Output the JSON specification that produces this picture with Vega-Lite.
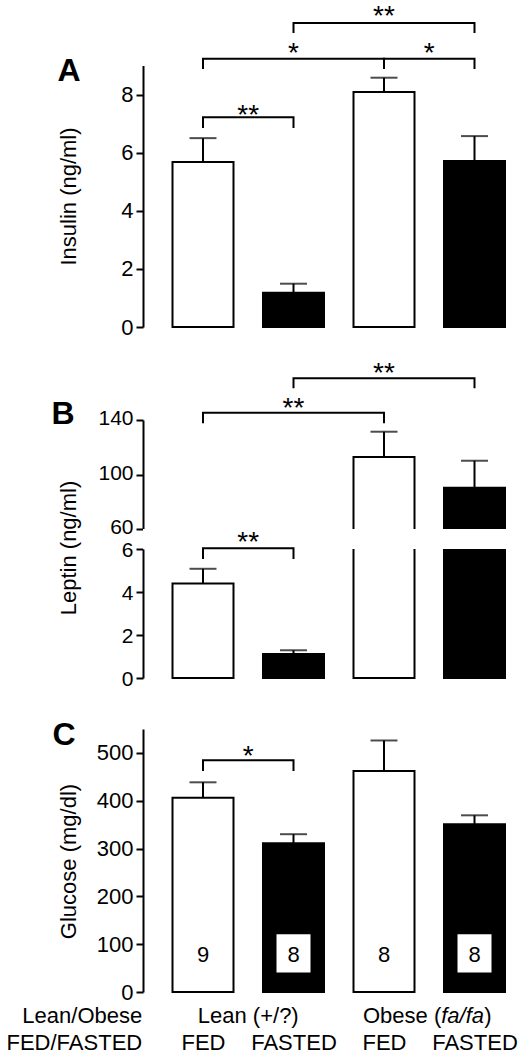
{
  "$schema": "https://vega.github.io/schema/vega-lite/v6.json",
  "width": 377,
  "height": 992,
  "autosize": {"type": "none"},
  "padding": {"left": 143, "top": 0, "right": 0, "bottom": 64},
  "background": "white",
  "config": {
    "view": {"stroke": null},
    "font": "Liberation Sans",
    "axis": {
      "labelFont": "Liberation Sans", "titleFont": "Liberation Sans",
      "labelFontSize": 22, "titleFontSize": 22, "titleFontWeight": "normal",
      "labelColor": "black", "titleColor": "black",
      "domainColor": "black", "domainWidth": 2,
      "tickColor": "black", "tickWidth": 2, "tickSize": 7,
      "labelPadding": 3, "grid": false
    },
    "text": {"font": "Liberation Sans", "color": "black"}
  },
  "datasets": {
    "insulin": [
      {"cond": "Lean FED", "group": "Lean", "state": "FED", "mean": 5.68, "upper": 6.50},
      {"cond": "Lean FASTED", "group": "Lean", "state": "FASTED", "mean": 1.18, "upper": 1.49},
      {"cond": "Obese FED", "group": "Obese", "state": "FED", "mean": 8.09, "upper": 8.58},
      {"cond": "Obese FASTED", "group": "Obese", "state": "FASTED", "mean": 5.71, "upper": 6.57}
    ],
    "leptin": [
      {"cond": "Lean FED", "group": "Lean", "state": "FED", "mean": 4.39, "upper": 5.08},
      {"cond": "Lean FASTED", "group": "Lean", "state": "FASTED", "mean": 1.12, "upper": 1.29},
      {"cond": "Obese FED", "group": "Obese", "state": "FED", "mean": 112.8, "upper": 131.4},
      {"cond": "Obese FASTED", "group": "Obese", "state": "FASTED", "mean": 90.3, "upper": 110.1}
    ],
    "glucose": [
      {"cond": "Lean FED", "group": "Lean", "state": "FED", "mean": 406, "upper": 438.5, "n": 9},
      {"cond": "Lean FASTED", "group": "Lean", "state": "FASTED", "mean": 311, "upper": 330, "n": 8},
      {"cond": "Obese FED", "group": "Obese", "state": "FED", "mean": 462, "upper": 526, "n": 8},
      {"cond": "Obese FASTED", "group": "Obese", "state": "FASTED", "mean": 351, "upper": 369.5, "n": 8}
    ],
    "brackets": [
      {"panel": "A", "id": "A1", "k": 1, "x": "Lean FED", "y": 6.85},
      {"panel": "A", "id": "A1", "k": 2, "x": "Lean FED", "y": 7.22},
      {"panel": "A", "id": "A1", "k": 3, "x": "Lean FASTED", "y": 7.22},
      {"panel": "A", "id": "A1", "k": 4, "x": "Lean FASTED", "y": 6.85},
      {"panel": "A", "id": "A2", "k": 1, "x": "Lean FED", "y": 8.88},
      {"panel": "A", "id": "A2", "k": 2, "x": "Lean FED", "y": 9.23},
      {"panel": "A", "id": "A2", "k": 3, "x": "Obese FED", "y": 9.23},
      {"panel": "A", "id": "A2", "k": 4, "x": "Obese FED", "y": 8.88},
      {"panel": "A", "id": "A3", "k": 1, "x": "Obese FED", "y": 8.88},
      {"panel": "A", "id": "A3", "k": 2, "x": "Obese FED", "y": 9.23},
      {"panel": "A", "id": "A3", "k": 3, "x": "Obese FASTED", "y": 9.23},
      {"panel": "A", "id": "A3", "k": 4, "x": "Obese FASTED", "y": 8.88},
      {"panel": "A", "id": "A4", "k": 1, "x": "Lean FASTED", "y": 10.12},
      {"panel": "A", "id": "A4", "k": 2, "x": "Lean FASTED", "y": 10.46},
      {"panel": "A", "id": "A4", "k": 3, "x": "Obese FASTED", "y": 10.46},
      {"panel": "A", "id": "A4", "k": 4, "x": "Obese FASTED", "y": 10.12},
      {"panel": "Bu", "id": "Bu1", "k": 1, "x": "Lean FED", "y": 137.6},
      {"panel": "Bu", "id": "Bu1", "k": 2, "x": "Lean FED", "y": 145.4},
      {"panel": "Bu", "id": "Bu1", "k": 3, "x": "Obese FED", "y": 145.4},
      {"panel": "Bu", "id": "Bu1", "k": 4, "x": "Obese FED", "y": 137.6},
      {"panel": "Bu", "id": "Bu2", "k": 1, "x": "Lean FASTED", "y": 163.3},
      {"panel": "Bu", "id": "Bu2", "k": 2, "x": "Lean FASTED", "y": 170.6},
      {"panel": "Bu", "id": "Bu2", "k": 3, "x": "Obese FASTED", "y": 170.6},
      {"panel": "Bu", "id": "Bu2", "k": 4, "x": "Obese FASTED", "y": 163.3},
      {"panel": "Bl", "id": "Bl1", "k": 1, "x": "Lean FED", "y": 5.53},
      {"panel": "Bl", "id": "Bl1", "k": 2, "x": "Lean FED", "y": 6.03},
      {"panel": "Bl", "id": "Bl1", "k": 3, "x": "Lean FASTED", "y": 6.03},
      {"panel": "Bl", "id": "Bl1", "k": 4, "x": "Lean FASTED", "y": 5.53},
      {"panel": "C", "id": "C1", "k": 1, "x": "Lean FED", "y": 462.2},
      {"panel": "C", "id": "C1", "k": 2, "x": "Lean FED", "y": 484.5},
      {"panel": "C", "id": "C1", "k": 3, "x": "Lean FASTED", "y": 484.5},
      {"panel": "C", "id": "C1", "k": 4, "x": "Lean FASTED", "y": 462.2}
    ],
    "stars": [
      {"panel": "A", "mid": "Lean", "y": 6.97, "t": "**"},
      {"panel": "A", "mid": "Lean FASTED", "y": 9.11, "t": "*"},
      {"panel": "A", "mid": "Obese", "y": 9.11, "t": "*"},
      {"panel": "A", "mid": "Obese FED", "y": 10.38, "t": "**"},
      {"panel": "Bu", "mid": "Lean FASTED", "y": 142.1, "t": "**"},
      {"panel": "Bu", "mid": "Obese FED", "y": 167.7, "t": "**"},
      {"panel": "Bl", "mid": "Lean", "y": 5.9, "t": "**"},
      {"panel": "C", "mid": "Lean", "y": 474, "t": "*"}
    ]
  },
  "resolve": {"scale": {"y": "independent"}, "axis": {"x": "independent", "y": "independent"}},
  "layer": [
    {
      "data": {"name": "insulin"},
      "layer": [
        {
          "mark": {"type": "bar", "width": 61, "stroke": "black", "strokeWidth": 2},
          "encoding": {
            "x": {"field": "cond", "type": "nominal",
              "scale": {"type": "point", "domain": ["Lean FED", "Lean", "Lean FASTED", "middle", "Obese FED", "Obese", "Obese FASTED"], "range": [60, 331.5], "padding": 0},
              "axis": {"orient": "bottom", "labels": false, "ticks": false, "tickSize": 0, "domain": false, "title": "A", "titleX": -86, "titleY": -912, "titleAlign": "left", "titleBaseline": "alphabetic", "titleAngle": 0, "titleFontSize": 32, "titleFontWeight": "bold"}},
            "y": {"field": "mean", "type": "quantitative",
              "scale": {"domain": [0, 9], "range": [327, 65.5], "nice": false, "zero": false},
              "axis": {"orient": "left", "values": [0, 2, 4, 6, 8], "format": "d", "title": "Insulin (ng/ml)", "titleX": -63, "titleY": 196, "titleAngle": -90, "titleAlign": "center", "titleBaseline": "bottom"}},
            "color": {"field": "state", "type": "nominal", "scale": {"domain": ["FED", "FASTED"], "range": ["white", "black"]}, "legend": null}
          }
        },
        {
          "mark": {"type": "rule", "color": "black", "strokeWidth": 2},
          "encoding": {
            "x": {"field": "cond", "type": "nominal", "scale": {"type": "point", "domain": ["Lean FED", "Lean", "Lean FASTED", "middle", "Obese FED", "Obese", "Obese FASTED"], "range": [60, 331.5], "padding": 0}},
            "y": {"field": "mean", "type": "quantitative", "scale": {"domain": [0, 9], "range": [327, 65.5], "nice": false, "zero": false}},
            "y2": {"field": "upper"}
          }
        },
        {
          "mark": {"type": "tick", "color": "black", "thickness": 2, "size": 27},
          "encoding": {
            "x": {"field": "cond", "type": "nominal", "scale": {"type": "point", "domain": ["Lean FED", "Lean", "Lean FASTED", "middle", "Obese FED", "Obese", "Obese FASTED"], "range": [60, 331.5], "padding": 0}},
            "y": {"field": "upper", "type": "quantitative", "scale": {"domain": [0, 9], "range": [327, 65.5], "nice": false, "zero": false}}
          }
        },
        {
          "data": {"name": "brackets"},
          "transform": [{"filter": "datum.panel === 'A'"}],
          "mark": {"type": "line", "color": "black", "strokeWidth": 2, "strokeJoin": "miter", "strokeCap": "butt"},
          "encoding": {
            "x": {"field": "x", "type": "nominal", "scale": {"type": "point", "domain": ["Lean FED", "Lean", "Lean FASTED", "middle", "Obese FED", "Obese", "Obese FASTED"], "range": [60, 331.5], "padding": 0}},
            "y": {"field": "y", "type": "quantitative", "scale": {"domain": [0, 9], "range": [327, 65.5], "nice": false, "zero": false}},
            "detail": {"field": "id", "type": "nominal"},
            "order": {"field": "k", "type": "quantitative"}
          }
        },
        {
          "data": {"name": "stars"},
          "transform": [{"filter": "datum.panel === 'A'"}],
          "mark": {"type": "text", "fontSize": 28, "baseline": "alphabetic", "align": "center", "color": "black"},
          "encoding": {
            "x": {"field": "mid", "type": "nominal", "scale": {"type": "point", "domain": ["Lean FED", "Lean", "Lean FASTED", "middle", "Obese FED", "Obese", "Obese FASTED"], "range": [60, 331.5], "padding": 0}},
            "y": {"field": "y", "type": "quantitative", "scale": {"domain": [0, 9], "range": [327, 65.5], "nice": false, "zero": false}},
            "text": {"field": "t", "type": "nominal"}
          }
        }
      ]
    },
    {
      "data": {"name": "leptin"},
      "layer": [
        {
          "transform": [{"filter": "datum.group === 'Obese'"}],
          "mark": {"type": "bar", "width": 61, "stroke": "black", "strokeWidth": 2},
          "encoding": {
            "x": {"field": "cond", "type": "nominal",
              "scale": {"type": "point", "domain": ["Lean FED", "Lean", "Lean FASTED", "middle", "Obese FED", "Obese", "Obese FASTED"], "range": [60, 331.5], "padding": 0},
              "axis": {"orient": "bottom", "labels": false, "ticks": false, "tickSize": 0, "domain": false, "title": "B", "titleX": -92, "titleY": -568.7, "titleAlign": "left", "titleBaseline": "alphabetic", "titleAngle": 0, "titleFontSize": 32, "titleFontWeight": "bold"}},
            "y": {"field": "mean", "type": "quantitative",
              "scale": {"domain": [60, 140], "range": [529, 420], "nice": false, "zero": false},
              "axis": {"orient": "left", "values": [60, 100, 140], "format": "d", "labelFontSize": 21, "labelOffset": -1.5, "title": null}},
            "y2": {"datum": 50},
            "color": {"field": "state", "type": "nominal", "scale": {"domain": ["FED", "FASTED"], "range": ["white", "black"]}, "legend": null}
          }
        },
        {
          "transform": [{"filter": "datum.group === 'Obese'"}],
          "mark": {"type": "rule", "color": "black", "strokeWidth": 2},
          "encoding": {
            "x": {"field": "cond", "type": "nominal", "scale": {"type": "point", "domain": ["Lean FED", "Lean", "Lean FASTED", "middle", "Obese FED", "Obese", "Obese FASTED"], "range": [60, 331.5], "padding": 0}},
            "y": {"field": "mean", "type": "quantitative", "scale": {"domain": [60, 140], "range": [529, 420], "nice": false, "zero": false}},
            "y2": {"field": "upper"}
          }
        },
        {
          "transform": [{"filter": "datum.group === 'Obese'"}],
          "mark": {"type": "tick", "color": "black", "thickness": 2, "size": 27},
          "encoding": {
            "x": {"field": "cond", "type": "nominal", "scale": {"type": "point", "domain": ["Lean FED", "Lean", "Lean FASTED", "middle", "Obese FED", "Obese", "Obese FASTED"], "range": [60, 331.5], "padding": 0}},
            "y": {"field": "upper", "type": "quantitative", "scale": {"domain": [60, 140], "range": [529, 420], "nice": false, "zero": false}}
          }
        },
        {
          "data": {"name": "brackets"},
          "transform": [{"filter": "datum.panel === 'Bu'"}],
          "mark": {"type": "line", "color": "black", "strokeWidth": 2, "strokeJoin": "miter", "strokeCap": "butt"},
          "encoding": {
            "x": {"field": "x", "type": "nominal", "scale": {"type": "point", "domain": ["Lean FED", "Lean", "Lean FASTED", "middle", "Obese FED", "Obese", "Obese FASTED"], "range": [60, 331.5], "padding": 0}},
            "y": {"field": "y", "type": "quantitative", "scale": {"domain": [60, 140], "range": [529, 420], "nice": false, "zero": false}},
            "detail": {"field": "id", "type": "nominal"},
            "order": {"field": "k", "type": "quantitative"}
          }
        },
        {
          "data": {"name": "stars"},
          "transform": [{"filter": "datum.panel === 'Bu'"}],
          "mark": {"type": "text", "fontSize": 28, "baseline": "alphabetic", "align": "center", "color": "black"},
          "encoding": {
            "x": {"field": "mid", "type": "nominal", "scale": {"type": "point", "domain": ["Lean FED", "Lean", "Lean FASTED", "middle", "Obese FED", "Obese", "Obese FASTED"], "range": [60, 331.5], "padding": 0}},
            "y": {"field": "y", "type": "quantitative", "scale": {"domain": [60, 140], "range": [529, 420], "nice": false, "zero": false}},
            "text": {"field": "t", "type": "nominal"}
          }
        }
      ]
    },
    {
      "data": {"name": "leptin"},
      "layer": [
        {
          "transform": [{"filter": "datum.group === 'Lean'"}],
          "mark": {"type": "bar", "width": 61, "stroke": "black", "strokeWidth": 2},
          "encoding": {
            "x": {"field": "cond", "type": "nominal",
              "scale": {"type": "point", "domain": ["Lean FED", "Lean", "Lean FASTED", "middle", "Obese FED", "Obese", "Obese FASTED"], "range": [60, 331.5], "padding": 0},
              "axis": {"orient": "bottom", "labels": false, "ticks": false, "tickSize": 0, "domain": false, "title": ["Lean/Obese", "FED/FASTED"], "titleX": -1.3, "titleY": 30.7, "titleAlign": "right", "titleBaseline": "alphabetic", "titleAngle": 0, "titleLineHeight": 26.6, "titleFontSize": 22}},
            "y": {"field": "mean", "type": "quantitative",
              "scale": {"domain": [0, 6], "range": [678, 549], "nice": false, "zero": false},
              "axis": {"orient": "left", "values": [0, 2, 4, 6], "format": "d", "labelFontSize": 21, "labelOffset": 1, "title": "Leptin (ng/ml)", "titleX": -63, "titleY": 547.5, "titleAngle": -90, "titleAlign": "center", "titleBaseline": "bottom"}},
            "color": {"field": "state", "type": "nominal", "scale": {"domain": ["FED", "FASTED"], "range": ["white", "black"]}, "legend": null}
          }
        },
        {
          "transform": [{"filter": "datum.group === 'Obese'"}],
          "mark": {"type": "bar", "width": 61, "stroke": "black", "strokeWidth": 2},
          "encoding": {
            "x": {"field": "cond", "type": "nominal", "scale": {"type": "point", "domain": ["Lean FED", "Lean", "Lean FASTED", "middle", "Obese FED", "Obese", "Obese FASTED"], "range": [60, 331.5], "padding": 0}},
            "y": {"datum": 6.6, "type": "quantitative", "scale": {"domain": [0, 6], "range": [678, 549], "nice": false, "zero": false}},
            "y2": {"datum": 0},
            "color": {"field": "state", "type": "nominal", "scale": {"domain": ["FED", "FASTED"], "range": ["white", "black"]}, "legend": null}
          }
        },
        {
          "transform": [{"filter": "datum.group === 'Lean'"}],
          "mark": {"type": "rule", "color": "black", "strokeWidth": 2},
          "encoding": {
            "x": {"field": "cond", "type": "nominal", "scale": {"type": "point", "domain": ["Lean FED", "Lean", "Lean FASTED", "middle", "Obese FED", "Obese", "Obese FASTED"], "range": [60, 331.5], "padding": 0}},
            "y": {"field": "mean", "type": "quantitative", "scale": {"domain": [0, 6], "range": [678, 549], "nice": false, "zero": false}},
            "y2": {"field": "upper"}
          }
        },
        {
          "transform": [{"filter": "datum.group === 'Lean'"}],
          "mark": {"type": "tick", "color": "black", "thickness": 2, "size": 27},
          "encoding": {
            "x": {"field": "cond", "type": "nominal", "scale": {"type": "point", "domain": ["Lean FED", "Lean", "Lean FASTED", "middle", "Obese FED", "Obese", "Obese FASTED"], "range": [60, 331.5], "padding": 0}},
            "y": {"field": "upper", "type": "quantitative", "scale": {"domain": [0, 6], "range": [678, 549], "nice": false, "zero": false}}
          }
        },
        {
          "data": {"values": [{}]},
          "mark": {"type": "rect", "color": "white"},
          "encoding": {
            "y": {"datum": 6, "type": "quantitative", "scale": {"domain": [0, 6], "range": [678, 549], "nice": false, "zero": false}},
            "y2": {"datum": 6.93}
          }
        },
        {
          "data": {"name": "brackets"},
          "transform": [{"filter": "datum.panel === 'Bl'"}],
          "mark": {"type": "line", "color": "black", "strokeWidth": 2, "strokeJoin": "miter", "strokeCap": "butt"},
          "encoding": {
            "x": {"field": "x", "type": "nominal", "scale": {"type": "point", "domain": ["Lean FED", "Lean", "Lean FASTED", "middle", "Obese FED", "Obese", "Obese FASTED"], "range": [60, 331.5], "padding": 0}},
            "y": {"field": "y", "type": "quantitative", "scale": {"domain": [0, 6], "range": [678, 549], "nice": false, "zero": false}},
            "detail": {"field": "id", "type": "nominal"},
            "order": {"field": "k", "type": "quantitative"}
          }
        },
        {
          "data": {"name": "stars"},
          "transform": [{"filter": "datum.panel === 'Bl'"}],
          "mark": {"type": "text", "fontSize": 28, "baseline": "alphabetic", "align": "center", "color": "black"},
          "encoding": {
            "x": {"field": "mid", "type": "nominal", "scale": {"type": "point", "domain": ["Lean FED", "Lean", "Lean FASTED", "middle", "Obese FED", "Obese", "Obese FASTED"], "range": [60, 331.5], "padding": 0}},
            "y": {"field": "y", "type": "quantitative", "scale": {"domain": [0, 6], "range": [678, 549], "nice": false, "zero": false}},
            "text": {"field": "t", "type": "nominal"}
          }
        }
      ]
    },
    {
      "data": {"name": "glucose"},
      "layer": [
        {
          "mark": {"type": "bar", "width": 61, "stroke": "black", "strokeWidth": 2},
          "encoding": {
            "x": {"field": "cond", "type": "nominal",
              "scale": {"type": "point", "domain": ["Lean FED", "Lean", "Lean FASTED", "middle", "Obese FED", "Obese", "Obese FASTED"], "range": [60, 331.5], "padding": 0},
              "axis": {"orient": "bottom", "values": ["Lean FED", "Lean FASTED", "Obese FED", "Obese FASTED"], "labelExpr": "split(datum.value, ' ')[1]", "labelBaseline": "top", "labelPadding": 40, "labelFontSize": 22, "labelAngle": 0, "ticks": false, "tickSize": 0, "domain": false, "title": "C", "titleX": -91, "titleY": -247.5, "titleAlign": "left", "titleBaseline": "alphabetic", "titleAngle": 0, "titleFontSize": 32, "titleFontWeight": "bold"}},
            "y": {"field": "mean", "type": "quantitative",
              "scale": {"domain": [0, 550], "range": [992, 729], "nice": false, "zero": false},
              "axis": {"orient": "left", "values": [0, 100, 200, 300, 400, 500], "format": "d", "title": "Glucose (mg/dl)", "titleX": -63, "titleY": 861, "titleAngle": -90, "titleAlign": "center", "titleBaseline": "bottom"}},
            "color": {"field": "state", "type": "nominal", "scale": {"domain": ["FED", "FASTED"], "range": ["white", "black"]}, "legend": null}
          }
        },
        {
          "mark": {"type": "rule", "color": "black", "strokeWidth": 2},
          "encoding": {
            "x": {"field": "cond", "type": "nominal", "scale": {"type": "point", "domain": ["Lean FED", "Lean", "Lean FASTED", "middle", "Obese FED", "Obese", "Obese FASTED"], "range": [60, 331.5], "padding": 0}},
            "y": {"field": "mean", "type": "quantitative", "scale": {"domain": [0, 550], "range": [992, 729], "nice": false, "zero": false}},
            "y2": {"field": "upper"}
          }
        },
        {
          "mark": {"type": "tick", "color": "black", "thickness": 2, "size": 27},
          "encoding": {
            "x": {"field": "cond", "type": "nominal", "scale": {"type": "point", "domain": ["Lean FED", "Lean", "Lean FASTED", "middle", "Obese FED", "Obese", "Obese FASTED"], "range": [60, 331.5], "padding": 0}},
            "y": {"field": "upper", "type": "quantitative", "scale": {"domain": [0, 550], "range": [992, 729], "nice": false, "zero": false}}
          }
        },
        {
          "transform": [{"filter": "datum.state === 'FASTED'"}],
          "mark": {"type": "bar", "width": 34, "color": "white"},
          "encoding": {
            "x": {"field": "cond", "type": "nominal", "scale": {"type": "point", "domain": ["Lean FED", "Lean", "Lean FASTED", "middle", "Obese FED", "Obese", "Obese FASTED"], "range": [60, 331.5], "padding": 0}},
            "y": {"datum": 121, "type": "quantitative", "scale": {"domain": [0, 550], "range": [992, 729], "nice": false, "zero": false}},
            "y2": {"datum": 41}
          }
        },
        {
          "mark": {"type": "text", "fontSize": 22, "baseline": "alphabetic", "align": "center", "color": "black"},
          "encoding": {
            "x": {"field": "cond", "type": "nominal", "scale": {"type": "point", "domain": ["Lean FED", "Lean", "Lean FASTED", "middle", "Obese FED", "Obese", "Obese FASTED"], "range": [60, 331.5], "padding": 0}},
            "y": {"datum": 63, "type": "quantitative", "scale": {"domain": [0, 550], "range": [992, 729], "nice": false, "zero": false}},
            "text": {"field": "n", "type": "quantitative"}
          }
        },
        {
          "data": {"name": "brackets"},
          "transform": [{"filter": "datum.panel === 'C'"}],
          "mark": {"type": "line", "color": "black", "strokeWidth": 2, "strokeJoin": "miter", "strokeCap": "butt"},
          "encoding": {
            "x": {"field": "x", "type": "nominal", "scale": {"type": "point", "domain": ["Lean FED", "Lean", "Lean FASTED", "middle", "Obese FED", "Obese", "Obese FASTED"], "range": [60, 331.5], "padding": 0}},
            "y": {"field": "y", "type": "quantitative", "scale": {"domain": [0, 550], "range": [992, 729], "nice": false, "zero": false}},
            "detail": {"field": "id", "type": "nominal"},
            "order": {"field": "k", "type": "quantitative"}
          }
        },
        {
          "data": {"name": "stars"},
          "transform": [{"filter": "datum.panel === 'C'"}],
          "mark": {"type": "text", "fontSize": 28, "baseline": "alphabetic", "align": "center", "color": "black"},
          "encoding": {
            "x": {"field": "mid", "type": "nominal", "scale": {"type": "point", "domain": ["Lean FED", "Lean", "Lean FASTED", "middle", "Obese FED", "Obese", "Obese FASTED"], "range": [60, 331.5], "padding": 0}},
            "y": {"field": "y", "type": "quantitative", "scale": {"domain": [0, 550], "range": [992, 729], "nice": false, "zero": false}},
            "text": {"field": "t", "type": "nominal"}
          }
        },
        {
          "data": {"values": [{"slot": "Lean", "t": "Lean (+/?)"}]},
          "mark": {"type": "text", "fontSize": 22, "baseline": "alphabetic", "align": "center", "color": "black"},
          "encoding": {
            "x": {"field": "slot", "type": "nominal", "scale": {"type": "point", "domain": ["Lean FED", "Lean", "Lean FASTED", "middle", "Obese FED", "Obese", "Obese FASTED"], "range": [60, 331.5], "padding": 0}},
            "y": {"datum": -64.2, "type": "quantitative", "scale": {"domain": [0, 550], "range": [992, 729], "nice": false, "zero": false}},
            "text": {"field": "t", "type": "nominal"}
          }
        },
        {
          "data": {"values": [{"slot": "Obese", "t": "Obese ("}]},
          "mark": {"type": "text", "fontSize": 22, "baseline": "alphabetic", "align": "right", "dx": 12, "color": "black"},
          "encoding": {
            "x": {"field": "slot", "type": "nominal", "scale": {"type": "point", "domain": ["Lean FED", "Lean", "Lean FASTED", "middle", "Obese FED", "Obese", "Obese FASTED"], "range": [60, 331.5], "padding": 0}},
            "y": {"datum": -64.2, "type": "quantitative", "scale": {"domain": [0, 550], "range": [992, 729], "nice": false, "zero": false}},
            "text": {"field": "t", "type": "nominal"}
          }
        },
        {
          "data": {"values": [{"slot": "Obese", "t": "fa/fa"}]},
          "mark": {"type": "text", "fontSize": 22, "fontStyle": "italic", "baseline": "alphabetic", "align": "left", "dx": 12, "color": "black"},
          "encoding": {
            "x": {"field": "slot", "type": "nominal", "scale": {"type": "point", "domain": ["Lean FED", "Lean", "Lean FASTED", "middle", "Obese FED", "Obese", "Obese FASTED"], "range": [60, 331.5], "padding": 0}},
            "y": {"datum": -64.2, "type": "quantitative", "scale": {"domain": [0, 550], "range": [992, 729], "nice": false, "zero": false}},
            "text": {"field": "t", "type": "nominal"}
          }
        },
        {
          "data": {"values": [{"slot": "Obese", "t": ")"}]},
          "mark": {"type": "text", "fontSize": 22, "baseline": "alphabetic", "align": "left", "dx": 55, "color": "black"},
          "encoding": {
            "x": {"field": "slot", "type": "nominal", "scale": {"type": "point", "domain": ["Lean FED", "Lean", "Lean FASTED", "middle", "Obese FED", "Obese", "Obese FASTED"], "range": [60, 331.5], "padding": 0}},
            "y": {"datum": -64.2, "type": "quantitative", "scale": {"domain": [0, 550], "range": [992, 729], "nice": false, "zero": false}},
            "text": {"field": "t", "type": "nominal"}
          }
        }
      ]
    }
  ]
}
